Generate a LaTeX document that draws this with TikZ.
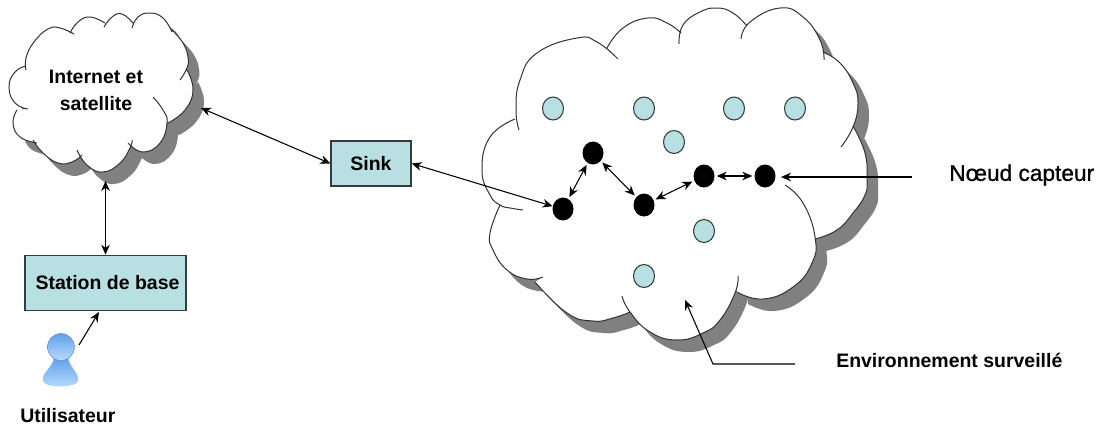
\documentclass[tikz,border=0pt]{standalone}
\usepackage{fontspec}
\setmainfont{Liberation Sans}
\newfontfamily\capfont[FakeBold=1]{Liberation Sans}
\usetikzlibrary{arrows.meta,shapes.geometric}
\definecolor{shadowgray}{RGB}{128,128,128}
\definecolor{lightteal}{RGB}{184,224,226}
\definecolor{edgedark}{RGB}{50,62,62}
\definecolor{userblue}{RGB}{96,160,235}
\definecolor{userpale}{RGB}{185,220,252}
% each lobe is a smooth curve; #1 joins it to the one before (-- for fills, nothing for outlines)
\newcommand\bigcloudpath[1]{
  plot[lobe] coordinates {(519,130)(516,110)(520,80)(537,53)(577,38)(597,42)(618,59)}
  #1 plot[lobe] coordinates {(607,48)(623,28)(648,18)(667,23)(681,33)}
  #1 plot[lobe] coordinates {(679,44)(683,25)(700,12)(717,8)(733,13)(747,26)}
  #1 plot[lobe] coordinates {(741,39)(750,22)(780,8)(803,17)(820,40)(824,60)}
  #1 plot[lobe] coordinates {(823,52)(840,63)(853,83)(858,103)(853,127)(841,147)}
  #1 plot[lobe] coordinates {(853,126)(865,153)(867,180)(865,195)(853,213)(837,230)(815,239)}
  #1 plot[lobe] coordinates {(785,185)(803,203)(815,237)(812,263)(793,287)(763,299)(737,292)}
  #1 plot[lobe] coordinates {(738,276)(735,293)(720,320)(703,333)(677,340)(650,332)(630,312)(622,296)}
  #1 plot[lobe] coordinates {(630,312)(613,318)(593,321)(567,313)(535,282)}
  #1 plot[lobe] coordinates {(543,277)(527,279)(507,270)(493,250)(490,233)(500,205)}
  #1 plot[lobe] coordinates {(523,210)(510,208)(500,205)(490,195)(482,170)(490,137)(515,119)}
}
\newcommand\smallcloudpath[1]{
  plot[lobe] coordinates {(74,34)(60,28)(48,29)(34,42)(26,58)(26,70)}
  #1 plot[lobe] coordinates {(26,66)(15,72)(9,87)(15,103)(28,109)}
  #1 plot[lobe] coordinates {(17,110)(13,123)(20,137)(37,143)}
  #1 plot[lobe] coordinates {(33,140)(43,153)(58,163)(72,162)(82,155)}
  #1 plot[lobe] coordinates {(77,150)(87,165)(103,172)(120,163)(130,148)(132,140)}
  #1 plot[lobe] coordinates {(128,143)(143,152)(160,143)(167,123)(163,110)(153,97)}
  #1 plot[lobe] coordinates {(168,123)(185,110)(193,90)(187,70)}
  #1 plot[lobe] coordinates {(180,80)(187,68)(188,57)(183,43)(172,30)}
  #1 plot[lobe] coordinates {(172,32)(163,18)(150,13)(138,17)(132,28)}
  #1 plot[lobe] coordinates {(133,23)(122,14)(112,17)(104,27)}
  #1 plot[lobe] coordinates {(105,23)(90,17)(78,22)(70,33)}
}
\tikzset{
  lobe/.style={smooth,tension=.8},
  outline/.style={draw=black!80,line width=.75pt},
  lab/.style={inner sep=0pt,font=\fontsize{14.6}{17}\selectfont\bfseries,align=center},
  plainlab/.style={inner sep=0pt,font=\fontsize{14.6}{17}\selectfont\bfseries},
  capnote/.style={inner sep=0pt,font=\capfont\fontsize{17}{19}\selectfont},
  boxnode/.style={draw=edgedark,line width=1pt,fill=lightteal,inner sep=0pt,font=\fontsize{14.6}{17}\selectfont\bfseries},
  sensor/.style={ellipse,minimum width=15.75pt,minimum height=17.25pt,inner sep=0pt},
  idle/.style={sensor,draw=edgedark,line width=.8pt,fill=lightteal},
  active/.style={sensor,fill=black},
  arr/.style={-{Stealth[length=7.5pt,width=6.5pt]},line width=.8pt,black},
  biarr/.style={{Stealth[length=7.5pt,width=6.5pt]}-{Stealth[length=7.5pt,width=6.5pt]},line width=.8pt,black},
}
\begin{document}
\begin{tikzpicture}[x=.75pt,y=-.75pt]
\useasboundingbox (0,0) rectangle (1098,429);
% shadows
\begin{scope}[shift={(11,12)}]
  \fill[shadowgray] \bigcloudpath{--} -- cycle;
  \fill[shadowgray] \smallcloudpath{--} -- cycle;
\end{scope}
% white bodies
\fill[white] \bigcloudpath{--} -- cycle;
\fill[white] \smallcloudpath{--} -- cycle;
% outlines
\draw[outline] \bigcloudpath{};
\draw[outline] \smallcloudpath{};

% labels and boxes
\node[lab] (internet) at (96,90.5) {Internet et\\[3.5pt]satellite};
\node[boxnode,minimum width=60pt,minimum height=33.75pt] (sink) at (371,163.5) {Sink};
\node[boxnode,minimum width=120.75pt,minimum height=41.5pt] (station) at (105.5,283) {\hspace*{3pt}Station de base};

% sensors
\node[idle] (i1) at (553,108.5) {};
\node[idle] (i2) at (644,108.5) {};
\node[idle] (i3) at (734,108.5) {};
\node[idle] (i4) at (795,108.5) {};
\node[idle] (i5) at (674,142) {};
\node[idle] (i6) at (704,231) {};
\node[idle] (i7) at (644,276) {};
\node[active] (a1) at (563,209) {};
\node[active] (a2) at (593,153) {};
\node[active] (a3) at (644,205) {};
\node[active] (a4) at (704,176) {};
\node[active] (a5) at (765,176) {};

% user icon
\shade[top color=userblue,bottom color=userpale,draw=userblue!60!white,line width=.4pt]
  (54,358) .. controls (52,368) and (43,372) .. (43,380)
  .. controls (43,388) and (78,388) .. (78,380) .. controls (78,372) and (70,368) .. (68,358) -- cycle;
\shade[top color=userblue,bottom color=userpale,draw=userblue!80!black,line width=.3pt] (61,347) ellipse [x radius=13.5,y radius=13.5];

% free ends
\coordinate (cloudR) at (201,108);
\coordinate (cloudB) at (105.5,181);
\coordinate (userTip) at (79,345);
\coordinate (stationTip) at (99,312);
\coordinate (capEnd) at (912,177);
\coordinate (capTip) at (781,177);
\coordinate (envA) at (795,364);
\coordinate (envB) at (713,364);
\coordinate (envTip) at (685,300);

% connectors
\draw[biarr] (cloudR) -- (sink.west);
\draw[biarr] (cloudB) -- (station.north);
\draw[arr] (userTip) -- (stationTip);
\draw[biarr] (sink.east) -- (a1.165);
\draw[biarr,shorten >=1.5pt,shorten <=1.5pt] (a1) -- (a2);
\draw[biarr,shorten >=1.5pt,shorten <=1.5pt] (a2) -- (a3);
\draw[biarr,shorten >=1.5pt,shorten <=1.5pt] (a3) -- (a4);
\draw[biarr,shorten >=1.5pt,shorten <=1.5pt] (a4) -- (a5);
\draw[arr] (capEnd) -- (capTip);
\draw[arr] (envA) -- (envB) -- (envTip);

% captions
\node[capnote,anchor=west] (capteur) at (949,175) {Nœud capteur};
\node[plainlab,anchor=west] (env) at (836,360) {Environnement surveillé};
\node[plainlab,anchor=west] (utilisateur) at (20,416) {Utilisateur};
\end{tikzpicture}
\end{document}
